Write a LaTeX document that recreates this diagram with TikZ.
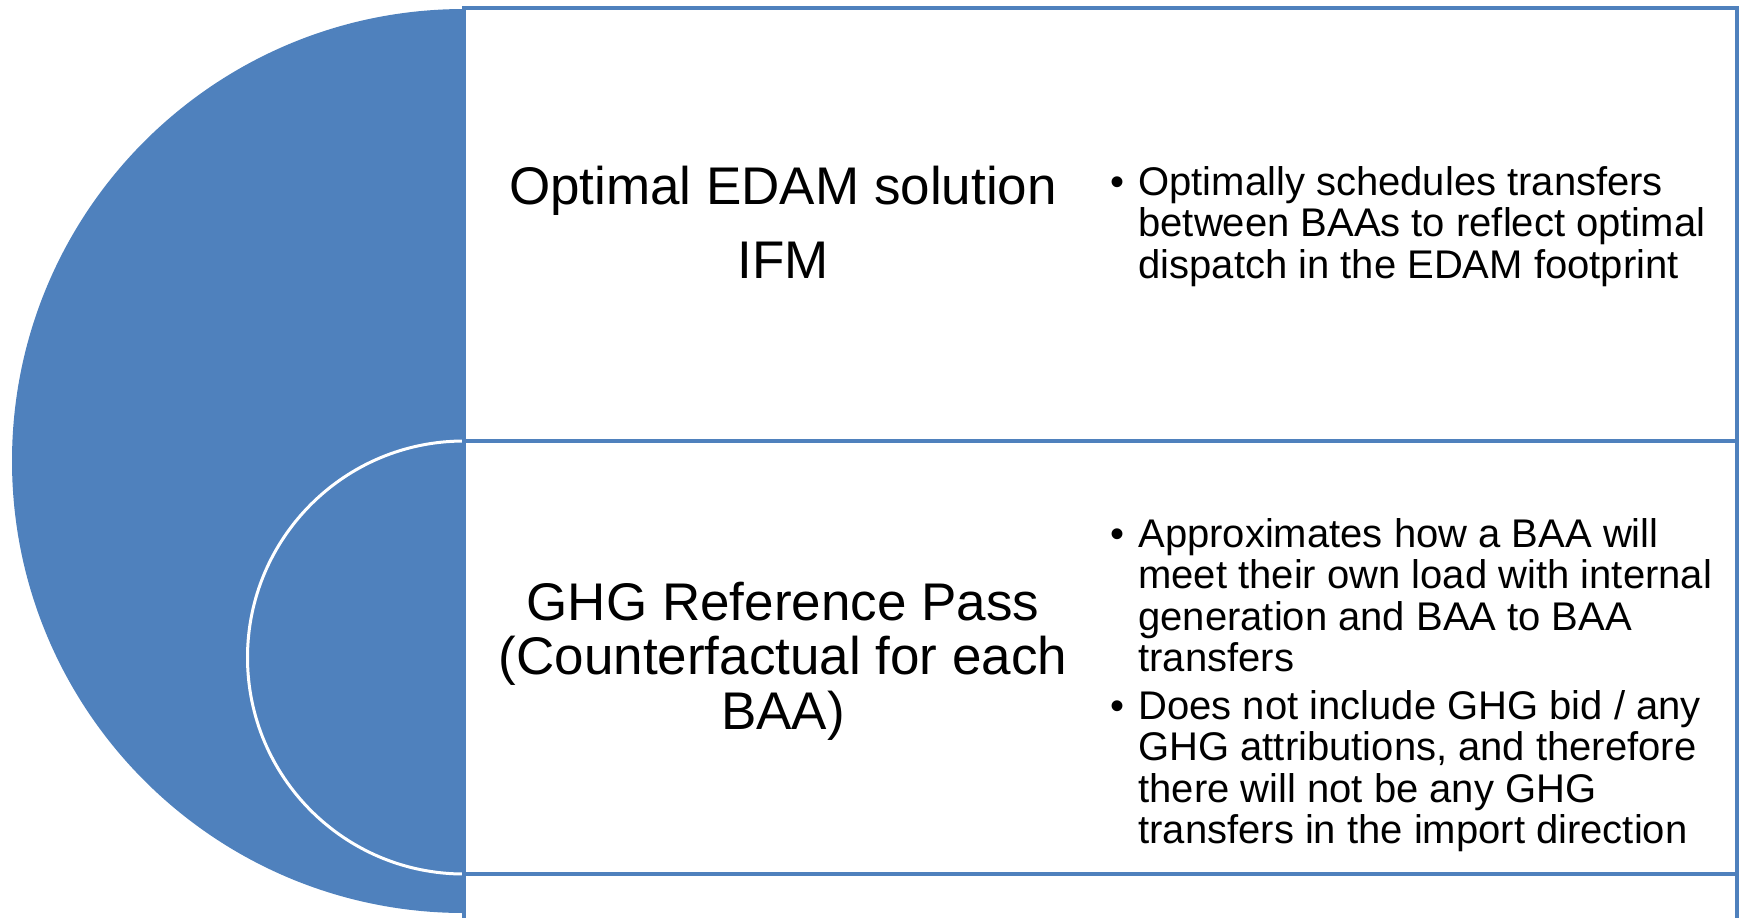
\documentclass[tikz,border=0pt]{standalone}
\usepackage{fontspec}
\setmainfont{Liberation Sans}
\definecolor{accent}{RGB}{79,129,189}
\begin{document}
\begin{tikzpicture}[x=0.5pt,y=-0.5pt,
  boxline/.style={draw=accent,line width=2pt,fill=white},
  bigtext/.style={inner sep=0pt,anchor=base,font=\fontsize{26.5}{27}\selectfont},
  bultext/.style={inner sep=0pt,anchor=base west,font=\fontsize{20}{20.8}\selectfont}]
\useasboundingbox (0,0) rectangle (1741,917);
% half disk
\begin{scope}
  \clip (0,0) rectangle (464,917);
  \fill[accent] (464,461) circle (452);
  \draw[white,line width=1.5pt] (464,657.5) circle (216.5);
\end{scope}
% boxes
\draw[boxline] (464,8) rectangle (1737,441);
\draw[boxline] (464,441) rectangle (1737,874);
\draw[accent,line width=2pt] (464,874) -- (464,920);
\draw[accent,line width=2pt] (1737,874) -- (1737,920);
% left texts
\node[bigtext] (t1) at (783,204) {\def\arraystretch{1}\setlength{\baselineskip}{38pt}%
  \begin{tabular}[t]{@{}c@{}}Optimal EDAM solution\\[10pt]IFM\end{tabular}};
\node[bigtext] (t2) at (783,620) {\begin{tabular}[t]{@{}c@{}}GHG Reference Pass\\(Counterfactual for each\\BAA)\end{tabular}};
% bullets
\node[bultext] (b1) at (1110,195) {\begin{tabular}[t]{@{}p{14pt}@{}l@{}}\textbullet&Optimally schedules transfers\\&between BAAs to reflect optimal\\&dispatch in the EDAM footprint\end{tabular}};
\node[bultext] (b2) at (1110,547) {\begin{tabular}[t]{@{}p{14pt}@{}l@{}}\textbullet&Approximates how a BAA will\\&meet their own load with internal\\&generation and BAA to BAA\\&transfers\end{tabular}};
\node[bultext] (b3) at (1110,719) {\begin{tabular}[t]{@{}p{14pt}@{}l@{}}\textbullet&Does not include GHG bid / any\\&GHG attributions, and therefore\\&there will not be any GHG\\&transfers in the import direction\end{tabular}};
\end{tikzpicture}
\end{document}
